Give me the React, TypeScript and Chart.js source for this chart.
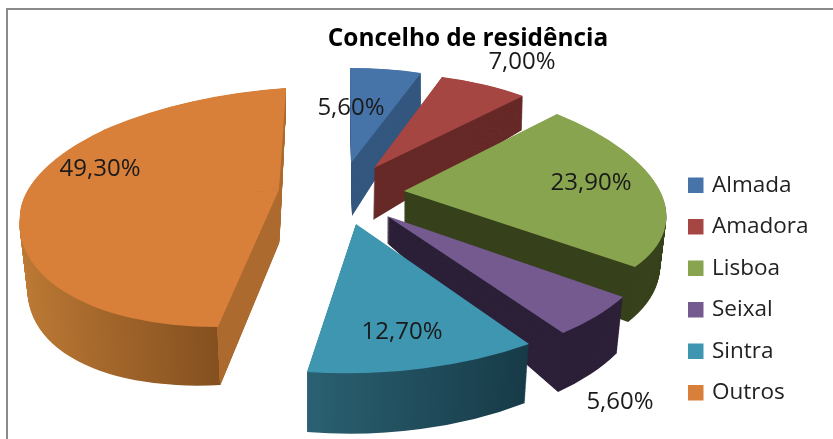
import React, { useEffect, useRef } from "react";
import { Chart, registerables } from "chart.js";

Chart.register(...registerables);

const TITLE = "Concelho de residência";
const CATEGORIES = ["Almada", "Amadora", "Lisboa", "Seixal", "Sintra", "Outros"];
const VALUES = [5.6, 7.0, 23.9, 5.6, 12.7, 49.3];
const FACE_COLORS = ["#4674A9", "#A64642", "#88A44E", "#745A8E", "#3F96B0", "#D8803A"];
const WALL_COLORS = ["#33577F", "#672A28", "#37421C", "#2C2038", "#1F4A58", "#AD6A2E"];

const FONT = "'Open Sans', Lato, sans-serif";

type P = [number, number];
type Anchors = { A: P; S: P; E: P; L?: P; M?: P };
// Where each exploded slice lands on the page: the apex and the two arc ends of its
// top face and bottom face (the reference is a perspective 3-D pie).
const PLACEMENT: { top: Anchors; bottom: Anchors; label: P }[] = [
  { top: { A: [351, 163], S: [350, 68], E: [421, 73] }, bottom: { A: [352, 216], S: [352, 95], E: [421, 108] }, label: [351, 108] },
  { top: { A: [374, 168], S: [442, 77], E: [523, 96] }, bottom: { A: [373, 220], S: [441, 112], E: [522, 130] }, label: [522, 62] },
  { top: { A: [404, 191], S: [557, 114], E: [635, 267] }, bottom: { A: [404, 240], S: [556, 155], E: [628, 322] }, label: [591, 183] },
  { top: { A: [387, 216], S: [623, 297], E: [563, 333] }, bottom: { A: [387, 243], S: [617, 353], E: [558, 392] }, label: [620, 402] },
  { top: { A: [356, 224], S: [529, 344], E: [307, 372] }, bottom: { A: [355, 270], S: [525, 403], E: [307, 432] }, label: [402, 332] },
  { top: { A: [279, 190], S: [218, 327], E: [286, 88], L: [20, 213], M: [102.4, 130.5] }, bottom: { A: [279.5, 243], S: [220.7, 385], E: [286, 108], L: [28, 280], M: [110, 172] }, label: [100, 169] },
];

const mix = (a: P, b: P, t: number): P => [a[0] + (b[0] - a[0]) * t, a[1] + (b[1] - a[1]) * t];

// Affine map sending the chart's circle to the page so that the angles a1/a2 land on p1/p2.
function applyMap(ctx: any, arc: any, A: P, a1: number, p1: P, a2: number, p2: P) {
  const R = arc.outerRadius;
  const u1: P = [Math.cos(a1), Math.sin(a1)];
  const u2: P = [Math.cos(a2), Math.sin(a2)];
  const v1: P = [p1[0] - A[0], p1[1] - A[1]];
  const v2: P = [p2[0] - A[0], p2[1] - A[1]];
  const det = u1[0] * u2[1] - u2[0] * u1[1];
  const a = (v1[0] * u2[1] - v2[0] * u1[1]) / det / R;
  const b = (v1[1] * u2[1] - v2[1] * u1[1]) / det / R;
  const c = (-v1[0] * u2[0] + v2[0] * u1[0]) / det / R;
  const d = (-v1[1] * u2[0] + v2[1] * u1[0]) / det / R;
  ctx.transform(a, b, c, d, A[0] - a * arc.x - c * arc.y, A[1] - b * arc.x - d * arc.y);
}

// clip to a wedge of the chart's circle, slightly wider than a1..a2 on the a2 side so pieces overlap
function clipWedge(ctx: any, arc: any, a1: number, a2: number) {
  const far = arc.outerRadius * 3;
  const pad = 0.02;
  const b2 = a2 + pad;
  const mid = (a1 + b2) / 2;
  ctx.beginPath();
  ctx.moveTo(arc.x, arc.y);
  ctx.lineTo(arc.x + Math.cos(a1) * far, arc.y + Math.sin(a1) * far);
  ctx.lineTo(arc.x + Math.cos(mid) * far, arc.y + Math.sin(mid) * far);
  ctx.lineTo(arc.x + Math.cos(b2) * far, arc.y + Math.sin(b2) * far);
  ctx.closePath();
  ctx.clip();
}

function drawSlice(ctx: any, arc: any, anchors: Anchors, fill: any) {
  const base = arc.options;
  arc.options = { ...base, backgroundColor: fill, borderWidth: 0 };
  if (anchors.L && anchors.M) {
    // the perspective needs pieces: the arc is pinned at its left extreme and upper-left point
    const left = Math.PI;
    const upperLeft = Math.PI * 1.25;
    const pieces: [number, P, number, P][] = [
      [arc.startAngle, anchors.S, left, anchors.L],
      [left, anchors.L, upperLeft, anchors.M],
      [upperLeft, anchors.M, arc.endAngle, anchors.E],
    ];
    pieces.forEach(([a1, p1, a2, p2]) => {
      ctx.save();
      applyMap(ctx, arc, anchors.A, a1, p1, a2, p2);
      clipWedge(ctx, arc, a1, a2);
      arc.draw(ctx);
      ctx.restore();
    });
  } else {
    ctx.save();
    applyMap(ctx, arc, anchors.A, arc.startAngle, anchors.S, arc.endAngle, anchors.E);
    arc.draw(ctx);
    ctx.restore();
  }
  arc.options = base;
}

function wallFill(ctx: any, arc: any, i: number) {
  const R = arc.outerRadius;
  if (i === 4) {
    const g = ctx.createLinearGradient(arc.x - 0.165 * R, 0, arc.x + 0.565 * R, 0);
    g.addColorStop(0, "#2A6172");
    g.addColorStop(1, "#173A47");
    return g;
  }
  if (i === 5) {
    const g = ctx.createLinearGradient(arc.x - R, 0, arc.x, 0);
    g.addColorStop(0, "#BE7A35");
    g.addColorStop(0.83, "#84501F");
    g.addColorStop(0.831, "#AD6A2E");
    g.addColorStop(1, "#AD6A2E");
    return g;
  }
  return WALL_COLORS[i];
}

const pie3d = {
  id: "pie3d",
  beforeDraw(chart: any) {
    const { ctx } = chart;
    ctx.save();
    ctx.fillStyle = "#FFFFFF";
    ctx.fillRect(0, 0, chart.width, chart.height);
    ctx.fillStyle = "#8A8A8A";
    ctx.fillRect(6, 8, chart.width - 6, 2);
    ctx.fillRect(6, 8, 2, chart.height - 8);
    ctx.restore();
  },
  afterLayout(chart: any) {
    const t = chart.titleBlock;
    t.left = 468 - 200;
    t.right = 468 + 200;
    t.top = 24.5;
    t.bottom = 24.5 + t.height;
    const l = chart.legend;
    const w = l.width;
    const h = l.height;
    l.left = 690.75 - 19;
    l.right = l.left + w;
    l.top = 289 - h / 2;
    l.bottom = l.top + h;
  },
  beforeDatasetsDraw(chart: any) {
    const { ctx } = chart;
    const arcs = chart.getDatasetMeta(0).data;
    const STEPS = 70;
    arcs.forEach((arc: any, i: number) => {
      const { top, bottom } = PLACEMENT[i];
      const fill = wallFill(ctx, arc, i);
      for (let s = STEPS; s >= 1; s--) {
        const t = s / STEPS;
        drawSlice(ctx, arc, {
          A: mix(top.A, bottom.A, t),
          S: mix(top.S, bottom.S, t),
          E: mix(top.E, bottom.E, t),
          L: top.L && bottom.L ? mix(top.L, bottom.L, t) : undefined,
          M: top.M && bottom.M ? mix(top.M, bottom.M, t) : undefined,
        }, fill);
      }
      drawSlice(ctx, arc, top, FACE_COLORS[i]);
    });
    ctx.save();
    ctx.font = `24px ${FONT}`;
    ctx.fillStyle = "#1A1A1A";
    ctx.textAlign = "center";
    ctx.textBaseline = "middle";
    VALUES.forEach((v, i) => {
      const [x, y] = PLACEMENT[i].label;
      ctx.fillText(v.toFixed(2).replace(".", ",") + "%", x, y);
    });
    ctx.restore();
    return false;
  },
};

export default function App() {
  const ref = useRef<HTMLCanvasElement>(null);
  useEffect(() => {
    const chart = new Chart(ref.current as HTMLCanvasElement, {
      type: "pie",
      data: {
        labels: CATEGORIES,
        datasets: [{ data: VALUES, backgroundColor: FACE_COLORS, borderWidth: 0 }],
      },
      options: {
        responsive: false,
        animation: false,
        plugins: {
          tooltip: { enabled: false },
          title: {
            display: true,
            text: TITLE,
            color: "#000000",
            font: { family: FONT, size: 24.4, weight: "bold" },
            padding: 0,
          },
          legend: {
            position: "right",
            labels: {
              font: { family: FONT, size: 22.5 },
              color: "#222222",
              boxWidth: 10,
              boxHeight: 10,
              padding: 19,
              generateLabels: () =>
                CATEGORIES.map((text, i) => ({
                  text,
                  fillStyle: FACE_COLORS[i],
                  strokeStyle: FACE_COLORS[i],
                  lineWidth: 5.5,
                  fontColor: "#222222",
                  hidden: false,
                  index: i,
                  datasetIndex: 0,
                })),
            },
          },
        },
      } as any,
      plugins: [pie3d as any],
    });
    return () => chart.destroy();
  }, []);
  return (
    <div style={{ position: "absolute", left: 0, top: 0, width: 833, height: 439, background: "#fff" }}>
      <canvas ref={ref} width={833} height={439} style={{ display: "block", filter: "blur(0.4px)" }} />
    </div>
  );
}
